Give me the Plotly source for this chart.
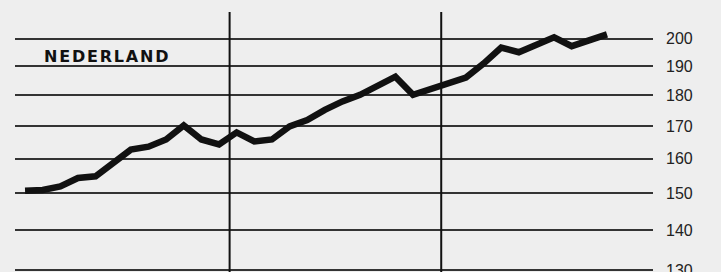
import plotly.graph_objects as go

# Monthly index values, three years, last year to October
months = list(range(34))
values = [150.7, 150.9, 151.9, 154.3, 154.8, 158.7, 162.7, 163.6, 165.8, 170.2,
          165.8, 164.3, 168.0, 165.2, 165.8, 169.9, 171.9, 175.2, 178.0, 180.2,
          183.5, 186.4, 180.2, 182.0, 184.0, 186.1, 191.0, 196.8, 195.1, 197.6,
          200.6, 197.3, 199.7, 201.7]
year_breaks = [11.6, 23.6]
tick_vals = [130, 140, 150, 160, 170, 180, 190, 200]
tick_text = [str(v) for v in tick_vals]
title_text = "NEDERLAND"

fig = go.Figure()
fig.add_trace(go.Scatter(
    x=months, y=values, mode="lines",
    line=dict(color="#111111", width=6.5, shape="linear"),
    hoverinfo="skip", showlegend=False,
))

for xb in year_breaks:
    fig.add_shape(type="line", xref="x", yref="paper", x0=xb, x1=xb, y0=0, y1=1,
                  line=dict(color="#111111", width=2), layer="above")

fig.add_annotation(
    text='<span style="letter-spacing:1.8px">' + title_text + '</span>',
    xref="paper", yref="paper", x=0.043, y=0.827,
    xanchor="left", yanchor="middle", showarrow=False,
    font=dict(family="DejaVu Sans", size=16, color="#111111", weight="bold"),
)

fig.update_layout(
    width=721, height=272,
    margin=dict(l=15, r=68, t=12, b=0, autoexpand=False),
    paper_bgcolor="#eeeeee", plot_bgcolor="#eeeeee",
    xaxis=dict(range=[-0.57, 35.61], showgrid=False, zeroline=False,
               showticklabels=False, showline=False, ticks="", automargin=False),
    yaxis=dict(type="log", range=[2.1123, 2.3228], autorange=False,
               side="right", tickvals=tick_vals, ticktext=tick_text,
               showgrid=True, gridcolor="#333333", gridwidth=1.5,
               zeroline=False, showline=False, ticks="", automargin=False,
               ticklabelstandoff=12, ticklabeloverflow="allow",
               tickfont=dict(family="Liberation Sans", size=16, color="#222222")),
)

fig.write_html(
    "out.html",
    config={"displayModeBar": False},
    post_script="document.body.style.margin='0';document.body.style.background='#eeeeee';document.body.style.overflow='hidden';",
)
